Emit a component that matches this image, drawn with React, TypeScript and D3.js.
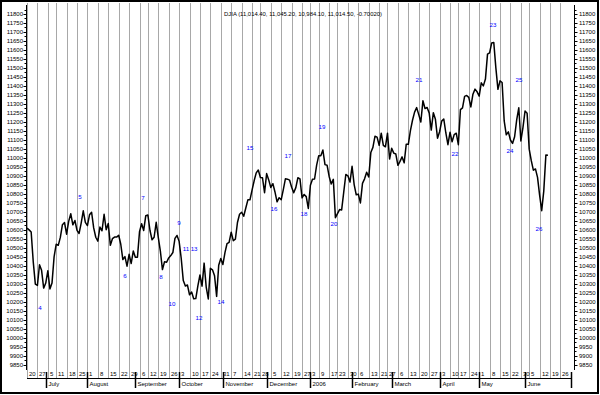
import React from "react";
import * as d3 from "d3";

// ---- data ----
const startDay = "2005-06-20";
const endDay = "2006-07-03";
const holidays = [
  "2005-07-04", "2005-09-05", "2005-11-24", "2005-12-26", "2006-01-02",
  "2006-01-16", "2006-02-20", "2006-04-14", "2006-05-29",
];

const closesJun05 = [10609, 10599, 10587, 10421, 10297, 10290, 10405, 10374, 10275];
const closesJul05 = [10303, 10371, 10270, 10303, 10449, 10519, 10513, 10557, 10628, 10640, 10575, 10646, 10689, 10627, 10651, 10596, 10579, 10637, 10705, 10641];
const closesAug05 = [10623, 10683, 10697, 10610, 10558, 10536, 10615, 10594, 10686, 10600, 10634, 10513, 10550, 10559, 10559, 10569, 10519, 10434, 10450, 10397, 10463, 10412, 10481];
const closesSep05 = [10447, 10447, 10589, 10633, 10596, 10678, 10682, 10597, 10544, 10558, 10641, 10557, 10481, 10378, 10422, 10419, 10443, 10456, 10473, 10552, 10568];
const closesOct05 = [10535, 10441, 10317, 10287, 10292, 10238, 10253, 10216, 10217, 10288, 10348, 10286, 10414, 10281, 10215, 10385, 10377, 10344, 10229, 10402, 10440];
const closesNov05 = [10406, 10472, 10523, 10530, 10586, 10539, 10547, 10640, 10686, 10697, 10675, 10721, 10766, 10766, 10820, 10872, 10916, 10932, 10890, 10889, 10806];
const closesDec05 = [10912, 10877, 10835, 10856, 10810, 10755, 10778, 10767, 10823, 10883, 10881, 10876, 10836, 10805, 10834, 10889, 10883, 10777, 10796, 10784, 10718];
const closesJan06 = [10847, 10880, 10882, 10959, 11012, 11011, 11043, 10962, 10959, 10896, 10854, 10880, 10667, 10689, 10712, 10710, 10809, 10907, 10900, 10865];
const closesFeb06 = [10953, 10851, 10794, 10798, 10749, 10858, 10883, 10920, 10893, 11029, 11058, 11120, 11115, 11069, 11137, 11069, 11061, 11137, 10993];
const closesMar06 = [11053, 11026, 11021, 10958, 10980, 11005, 10972, 11076, 11075, 11151, 11209, 11254, 11279, 11240, 11199, 11317, 11274, 11280, 11250, 11154, 11251, 11214, 11109];
const closesApr06 = [11145, 11204, 11216, 11138, 11073, 11142, 11089, 11129, 11137, 11073, 11268, 11278, 11342, 11347, 11336, 11283, 11354, 11382, 11367];
const closesMay06 = [11343, 11417, 11400, 11438, 11577, 11584, 11639, 11642, 11500, 11381, 11428, 11419, 11205, 11128, 11144, 11099, 11080, 11117, 11211, 11278, 11094, 11168];
const closesJun06 = [11260, 11248, 11048, 10984, 10931, 10938, 10891, 10792, 10706, 10816, 11015, 11014];

const closes = [
  ...closesJun05, ...closesJul05, ...closesAug05, ...closesSep05, ...closesOct05,
  ...closesNov05, ...closesDec05, ...closesJan06, ...closesFeb06, ...closesMar06,
  ...closesApr06, ...closesMay06, ...closesJun06,
];

const yTickValues = [
  9850, 9900, 9950, 10000, 10050, 10100, 10150, 10200, 10250, 10300, 10350, 10400,
  10450, 10500, 10550, 10600, 10650, 10700, 10750, 10800, 10850, 10900, 10950, 11000,
  11050, 11100, 11150, 11200, 11250, 11300, 11350, 11400, 11450, 11500, 11550, 11600,
  11650, 11700, 11750, 11800,
];

const monthLabels = ["2006", "February", "March", "April", "May", "June", "July", "August", "September", "October", "November", "December"];

const titleText = "DJIA (11,014.40, 11,045.20, 10,984.10, 11,014.50, -0.70020)";

// wave labels: text, trading-day index position, value position
const waveText = ["4", "5", "6", "7", "8", "9", "10", "11", "13", "12", "14", "15", "16", "17", "18", "19", "20", "21", "22", "23", "24", "25", "26"];
const waveIndex = [6.2, 25.4, 47, 55.7, 64.3, 72.9, 69.6, 76.3, 80.2, 82.5, 93.1, 107, 118.5, 125.2, 132.9, 141.6, 147.3, 188.1, 205.4, 223.6, 231.8, 236.1, 245.7];
const waveValue = [10164, 10782, 10342, 10776, 10336, 10637, 10186, 10492, 10492, 10108, 10197, 11054, 10715, 11010, 10687, 11171, 10631, 11433, 11021, 11739, 11038, 11433, 10604];

// ---- layout ----
const W = 600;
const H = 395;
const FONT = "'Liberation Sans', Arial, sans-serif";

function tradingDays(): Date[] {
  const p = d3.utcParse("%Y-%m-%d");
  const s = p(startDay)!;
  const e = d3.utcDay.offset(p(endDay)!, 1);
  const hol = new Set(holidays);
  const fmt = d3.utcFormat("%Y-%m-%d");
  return d3.utcDay.range(s, e).filter((d) => {
    const w = d.getUTCDay();
    return w !== 0 && w !== 6 && !hol.has(fmt(d));
  });
}

export default function App() {
  const days = tradingDays();
  const x = d3.scaleLinear().domain([0, 262.5]).range([27, 574]);
  const y = d3.scaleLinear().domain([9850, 11800]).range([364.5, 14]);

  const weekIdx: number[] = [];
  const monthIdx: number[] = [];
  days.forEach((d, i) => {
    if (i === 0) {
      weekIdx.push(i);
      return;
    }
    const prev = days[i - 1];
    if (+d3.utcMonday.floor(d) !== +d3.utcMonday.floor(prev)) weekIdx.push(i);
    if (d.getUTCMonth() !== prev.getUTCMonth()) monthIdx.push(i);
  });

  const line = d3
    .line<number>()
    .x((_, i) => x(i))
    .y((d) => y(d));

  const cx = (i: number) => Math.round(x(i)) + 0.5;
  const plotTop = 3;
  const axisY = 378.5;

  return (
    <svg
      width={W}
      height={H}
      style={{ position: "fixed", left: 0, top: 0, background: "#fff" }}
      fontFamily={FONT}
    >
      <rect x={0} y={0} width={W} height={H} fill="#fff" />
      {/* weekly gridlines */}
      {weekIdx
        .filter((i) => x(i) < 568)
        .map((i) => (
          <line key={"g" + i} x1={cx(i)} x2={cx(i)} y1={plotTop} y2={axisY} stroke="#a8a8a8" strokeWidth={1} />
        ))}
      {/* date labels */}
      {weekIdx
        .filter((i) => x(i) < 568)
        .map((i) => (
          <text key={"d" + i} x={cx(i) + 1.5} y={376} fontSize={6} fill="#000">
            {days[i].getUTCDate()}
          </text>
        ))}
      {/* x axis line */}
      <line x1={27} x2={572} y1={axisY} y2={axisY} stroke="#000" strokeWidth={1} />
      {/* month ticks and labels */}
      {monthIdx.map((i) => (
        <g key={"m" + i}>
          <line x1={cx(i)} x2={cx(i)} y1={372} y2={388} stroke="#000" strokeWidth={1.5} />
          {x(i) < 560 && (
            <text x={cx(i) + 2} y={386} fontSize={6} fill="#000">
              {monthLabels[days[i].getUTCMonth()]}
            </text>
          )}
        </g>
      ))}
      {/* left axis */}
      <line x1={26.5} x2={26.5} y1={5} y2={370} stroke="#000" strokeWidth={1} />
      {yTickValues.map((v) => (
        <g key={"l" + v}>
          <line x1={23.5} x2={26.5} y1={Math.round(y(v)) + 0.5} y2={Math.round(y(v)) + 0.5} stroke="#000" />
          <line x1={24.5} x2={26.5} y1={Math.round(y(v + 25)) + 0.5} y2={Math.round(y(v + 25)) + 0.5} stroke="#000" />
          <text x={23} y={y(v)} dy="0.35em" textAnchor="end" fontSize={6} fill="#000">
            {v}
          </text>
        </g>
      ))}
      {/* right axis */}
      <line x1={574.5} x2={574.5} y1={5} y2={370} stroke="#000" strokeWidth={1} />
      {yTickValues.map((v) => (
        <g key={"r" + v}>
          <line x1={574.5} x2={577.5} y1={Math.round(y(v)) + 0.5} y2={Math.round(y(v)) + 0.5} stroke="#000" />
          <line x1={574.5} x2={576.5} y1={Math.round(y(v + 25)) + 0.5} y2={Math.round(y(v + 25)) + 0.5} stroke="#000" />
          <text x={579} y={y(v)} dy="0.35em" textAnchor="start" fontSize={6} fill="#000">
            {v}
          </text>
        </g>
      ))}
      {/* price line */}
      <path d={line(closes) || ""} fill="none" stroke="#000" strokeWidth={1.5} strokeLinejoin="round" />
      {/* wave labels */}
      {waveText.map((t, k) => (
        <text
          key={"w" + k}
          x={x(waveIndex[k])}
          y={y(waveValue[k])}
          dy="0.35em"
          textAnchor="middle"
          fontSize={6.2}
          fill="#0000ff"
        >
          {t}
        </text>
      ))}
      {/* title */}
      <text x={303} y={14} dy="0.35em" textAnchor="middle" fontSize={5.9} fill="#000">
        {titleText}
      </text>
      {/* outer border */}
      <rect x={1} y={1} width={W - 3} height={H - 3} fill="none" stroke="#000" strokeWidth={2} />
    </svg>
  );
}
